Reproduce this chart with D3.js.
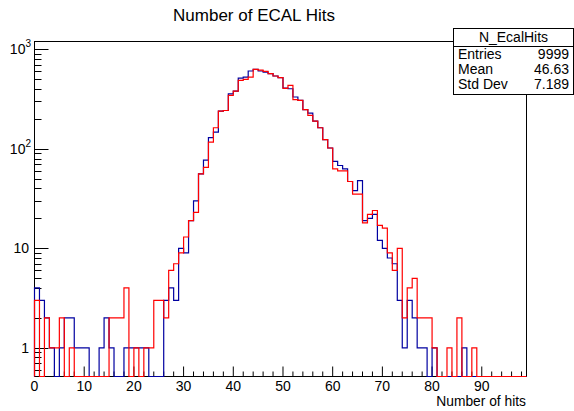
<!DOCTYPE html>
<html><head><meta charset="utf-8">
<script src="https://cdn.jsdelivr.net/npm/d3@7"></script>
<style>
html,body{margin:0;padding:0;background:#fff;}
svg{display:block;}
text{font-family:"Liberation Sans",Arial,Helvetica,sans-serif;}
</style></head>
<body>
<script>
// ---- data (bin contents, bins of width 1 from 0 to 99) ----
const binEdges = [0, 99];
const blueCounts = [4,3,2,1,0,1,2,2,1,1, 1,0,0,1,2,1,0,0,1,1,
  1,1,1,0,0,0,3,4,3,10, 9,19,30,56,77,130,147,240,243,357,
  381,515,527,606,630,606,592,570,540,519, 409,402,332,307,248,229,190,163,124,102,
  75,68,63,47,38,48,19,20,22,12, 10,8,7,3,1,3,2,1,1,0,
  1,0,0,0,0,0,1,0,0,0, 0,0,0,0,0,0,0,0,0];
const redCounts = [3,0,2,1,1,2,0,1,0,0, 0,0,0,0,0,2,2,2,4,0,
  1,0,1,1,3,3,2,6,7,9, 13,19,23,56,65,117,163,240,243,345,
  381,488,500,527,630,620,600,570,540,519, 405,435,312,307,248,217,190,163,124,102,
  63,60,60,47,35,35,18,22,24,17, 16,9,6,10,2,4,5,2,2,2,
  1,0,0,1,0,2,0,0,1,0, 0,0,0,0,0,0,0,0,0];
const xTickLabels = ["0","10","20","30","40","50","60","70","80","90"];
const yTickValues = [1, 10, 100, 1000];
const statsNames = ["Entries", "Mean", "Std Dev"];
const statsValues = ["9999", "46.63", "7.189"];
const titleText = "Number of ECAL Hits";
const xTitle = "Number of hits";
const histName = "N_EcalHits";

const W = 574, H = 411;
const svg = d3.select("body").append("svg").attr("width", W).attr("height", H);

const fL = 34.5, fR = 526.5, fT = 41.5, fB = 376.5;
const x = d3.scaleLinear().domain(binEdges).range([fL, fR]);
const y = d3.scaleLog().domain([0.515, 1200]).range([fB, fT]);

// frame
svg.append("rect").attr("x", fL).attr("y", fT).attr("width", fR - fL).attr("height", fB - fT)
  .attr("fill", "none").attr("stroke", "#000").attr("stroke-width", 1);

// x ticks (every 2, major every 10)
const xt = svg.append("g");
for (let v = 0; v <= binEdges[1]; v += 2) {
  const major = v % 10 === 0;
  const len = major ? 10 : 5;
  xt.append("line").attr("x1", x(v)).attr("x2", x(v)).attr("y1", fB).attr("y2", fB - len)
    .attr("stroke", "#000").attr("stroke-width", 1);
}
xTickLabels.forEach(s => {
  xt.append("text").attr("x", x(+s)).attr("y", 390.5).attr("text-anchor", "middle")
    .attr("font-size", 14).text(s);
});
svg.append("text").attr("x", 526).attr("y", 406.3).attr("text-anchor", "end")
  .attr("font-size", 13.8).text(xTitle);

// y ticks (log)
const yt = svg.append("g");
for (let d = -1; d <= 3; d++) {
  for (let m = 1; m <= 9; m++) {
    const v = m * Math.pow(10, d);
    if (v < y.domain()[0] || v > y.domain()[1]) continue;
    const yy = Math.round(y(v)) + 0.5;
    const len = m === 1 ? 14 : 7;
    yt.append("line").attr("x1", fL).attr("x2", fL + len).attr("y1", yy).attr("y2", yy)
      .attr("stroke", "#000").attr("stroke-width", 1);
  }
}
yTickValues.forEach(v => {
  const e = Math.round(Math.log10(v));
  const yy = y(v);
  if (e <= 1) {
    yt.append("text").attr("x", 29).attr("y", yy + 5).attr("text-anchor", "end")
      .attr("font-size", 14).text(String(v));
  } else {
    const t = yt.append("text").attr("x", 31).attr("y", yy + 5).attr("text-anchor", "end")
      .attr("font-size", 14);
    t.append("tspan").text("10");
    t.append("tspan").attr("font-size", 10).attr("dy", -7).text(String(e));
  }
});

// histograms as step outlines
function stepPoints(counts) {
  const pts = [[x(0), fB]];
  counts.forEach((c, i) => {
    const yy = c > 0 ? y(c) : fB;
    pts.push([x(i), yy]);
    pts.push([x(i + 1), yy]);
  });
  pts.push([x(counts.length), fB]);
  return pts;
}
const line = d3.line();
svg.append("path").attr("d", line(stepPoints(blueCounts))).attr("fill", "none")
  .attr("stroke", "#0000a0").attr("stroke-width", 1.2);
svg.append("path").attr("d", line(stepPoints(redCounts))).attr("fill", "none")
  .attr("stroke", "#ff0000").attr("stroke-width", 1.2);

// title
svg.append("text").attr("x", 254).attr("y", 21).attr("text-anchor", "middle")
  .attr("font-size", 17).text(titleText);

// stats box
const bx0 = 453.5, bx1 = 573.5, by0 = 28.5, by1 = 94.5, bsep = 46.5;
svg.append("rect").attr("x", bx0).attr("y", by0).attr("width", bx1 - bx0).attr("height", by1 - by0)
  .attr("fill", "#fff").attr("stroke", "#000").attr("stroke-width", 1);
svg.append("line").attr("x1", bx0).attr("x2", bx1).attr("y1", bsep).attr("y2", bsep)
  .attr("stroke", "#000").attr("stroke-width", 1);
svg.append("text").attr("x", (bx0 + bx1) / 2).attr("y", 41.5).attr("text-anchor", "middle")
  .attr("font-size", 14).text(histName);
statsNames.forEach((n, i) => {
  const yy = 58.5 + i * 15.3;
  svg.append("text").attr("x", 458).attr("y", yy).attr("font-size", 14).text(n);
  svg.append("text").attr("x", 569).attr("y", yy).attr("text-anchor", "end")
    .attr("font-size", 14).text(statsValues[i]);
});
</script>
</body></html>
